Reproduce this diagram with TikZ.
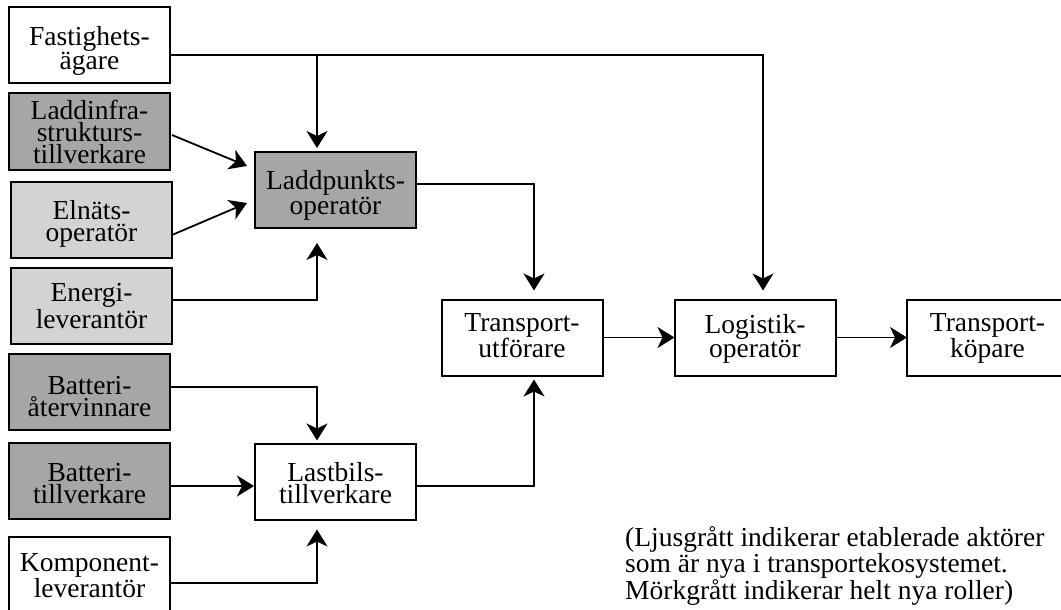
\documentclass[tikz,border=0pt]{standalone}
\usepackage{fontspec}
\setmainfont{Liberation Serif}
\usetikzlibrary{arrows.meta,calc}
\definecolor{darkfill}{RGB}{166,166,166}
\definecolor{lightfill}{RGB}{211,211,211}
\begin{document}
\begin{tikzpicture}[x=1pt,y=-1pt,
  box/.style={draw,line width=2pt,minimum width=161pt,minimum height=76pt,inner sep=0pt,outer sep=0pt,align=center,
    font=\fontsize{27.5}{22}\selectfont,text height=44pt,text depth=0pt},
  low/.style={text height=48pt},
  high/.style={text height=40pt},
  tri/.style={text height=63pt},
  dark/.style={box,fill=darkfill},
  light/.style={box,fill=lightfill},
  white/.style={box,fill=white},
  conn/.style={line width=1.8pt},
  arr/.style={conn,-{Stealth[length=17pt,width=21pt,inset=5pt]}}]
\useasboundingbox (0,0) rectangle (1061,610);
\node[white,low] (fa) at (89.5,45.5) {Fastighets-\\ägare};
\node[dark,tri]  (li) at (89.5,131.5) {Laddinfra-\\strukturs-\\tillverkare};
\node[light] (el) at (91.5,219.5) {Elnäts-\\operatör};
\node[light] (en) at (91.5,306) {Energi-\\leverantör};
\node[dark,low]  (ba) at (89.5,392) {Batteri-\\återvinnare};
\node[dark]  (bt) at (89.5,481) {Batteri-\\tillverkare};
\node[white] (ko) at (89.5,575) {Komponent-\\leverantör};
\node[dark,low]  (lp) at (335.5,190) {Laddpunkts-\\operatör};
\node[white] (lb) at (335.5,481.5) {Lastbils-\\tillverkare};
\node[white,high] (tu) at (522,337.5) {Transport-\\utförare};
\node[white,high] (lo) at (755,337.5) {Logistik-\\operatör};
\node[white,high] (tk) at (987.5,337.5) {Transport-\\köpare};
\coordinate (fb) at (317,55);
\draw[arr] ($(fa.east)+(0,9.5)$) -| ($(lo.north)+(8,-9)$);
\draw[arr] (fb) -- ($(lp.north)+(-18.5,-4)$);
\draw[arr] ($(li.east)+(2,3.5)$) -- ($(lp.west)+(-8,-24)$);
\draw[arr] ($(el.east)+(0,15.5)$) -- ($(lp.west)+(-8,13)$);
\draw[arr] ($(en.east)+(0,-6)$) -| ($(lp.south)+(-18.5,15)$);
\draw[arr] ($(lp.east)+(0,-6)$) -| ($(tu.north)+(12,-9)$);
\draw[arr] ($(ba.east)+(0,-5)$) -| ($(lb.north)+(-18.5,-3)$);
\draw[arr] ($(bt.east)+(0,5)$) -- ($(lb.west)+(-1,4.5)$);
\draw[arr] ($(ko.east)+(0,8)$) -| ($(lb.south)+(-18.5,10)$);
\draw[arr] ($(lb.east)+(0,4.5)$) -| ($(tu.south)+(12,4)$);
\draw[arr] (tu.east) -- (lo.west);
\draw[arr] (lo.east) -- (tk.west);
\node[anchor=base west,inner sep=0pt,align=left,font=\fontsize{27.5}{21.5}\selectfont] (legend) at (625,599) {(Ljusgrått indikerar etablerade aktörer\\som är nya i transportekosystemet.\\Mörkgrått indikerar helt nya roller)};
\end{tikzpicture}
\end{document}
